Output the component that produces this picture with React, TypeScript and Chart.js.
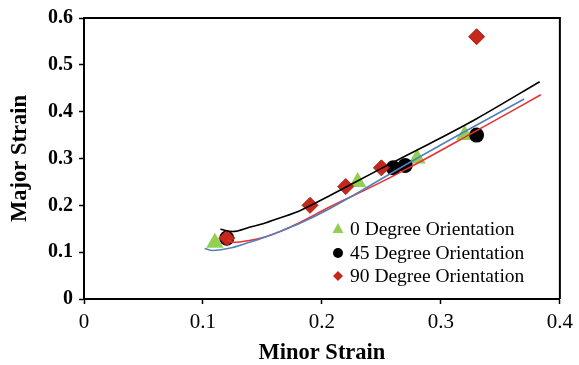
import React, { useEffect, useRef } from "react";
import { Chart, registerables } from "chart.js";

Chart.register(...registerables);

// Measured points
const minor0 = [0.11, 0.23, 0.28, 0.32];
const major0 = [0.12, 0.25, 0.30, 0.35];
const minor45 = [0.12, 0.26, 0.27, 0.33];
const major45 = [0.13, 0.28, 0.285, 0.35];
const minor90 = [0.12, 0.19, 0.22, 0.25, 0.33];
const major90 = [0.13, 0.20, 0.24, 0.28, 0.56];

// Trend lines
const trend0X = [0.1015, 0.108, 0.125, 0.139, 0.153, 0.167, 0.181, 0.206, 0.243, 0.27, 0.324, 0.37];
const trend0Y = [0.108, 0.1035, 0.110, 0.121, 0.133, 0.147, 0.161, 0.192, 0.246, 0.286, 0.363, 0.427];
const trend45X = [0.1146, 0.125, 0.139, 0.153, 0.167, 0.181, 0.19, 0.206, 0.25, 0.29, 0.33, 0.383];
const trend45Y = [0.149, 0.144, 0.153, 0.163, 0.175, 0.188, 0.199, 0.220, 0.279, 0.331, 0.385, 0.464];
const trend90X = [0.121, 0.125, 0.139, 0.153, 0.167, 0.181, 0.195, 0.206, 0.243, 0.273, 0.324, 0.384];
const trend90Y = [0.126, 0.121, 0.125, 0.133, 0.146, 0.163, 0.181, 0.196, 0.241, 0.280, 0.351, 0.436];

const legendLabels = ["0 Degree Orientation", "45 Degree Orientation", "90 Degree Orientation"];
const xTicks = [0, 0.1, 0.2, 0.3, 0.4];
const yTicks = [0, 0.1, 0.2, 0.3, 0.4, 0.5, 0.6];

const GREEN = "#92D050";
const BLACK = "#000000";
const RED = "#C4281C";
const BLUE_LINE = "#4F81BD";
const RED_LINE = "#EE3030";
const SERIF = "'Liberation Serif', 'Times New Roman', serif";

const zip = (xs: number[], ys: number[]) => xs.map((x, i) => ({ x, y: ys[i] }));
const fmt = (v: number) => (v === 0 ? "0" : v.toFixed(1));

const framePlugin = {
  id: "frame",
  afterDraw(chart: any) {
    const { ctx, chartArea: a } = chart;
    ctx.save();
    ctx.strokeStyle = "#000";
    ctx.lineWidth = 2;
    ctx.beginPath();
    ctx.moveTo(a.left, a.top);
    ctx.lineTo(a.right, a.top);
    ctx.lineTo(a.right, a.bottom);
    ctx.stroke();
    ctx.restore();

    // legend
    const mx = a.left + 254;
    const tx = a.left + 266;
    const rows = [a.top + 211, a.top + 235, a.top + 258];
    ctx.save();
    ctx.font = `19.5px ${SERIF}`;
    ctx.fillStyle = "#000";
    ctx.textBaseline = "middle";
    ctx.textAlign = "left";
    legendLabels.forEach((t, i) => {
      const y = rows[i];
      ctx.beginPath();
      if (i === 0) {
        ctx.fillStyle = GREEN;
        ctx.moveTo(mx, y - 6);
        ctx.lineTo(mx + 5.5, y + 4);
        ctx.lineTo(mx - 5.5, y + 4);
        ctx.closePath();
        ctx.fill();
      } else if (i === 1) {
        ctx.fillStyle = BLACK;
        ctx.arc(mx, y, 5, 0, Math.PI * 2);
        ctx.fill();
      } else {
        ctx.fillStyle = RED;
        ctx.moveTo(mx, y - 5);
        ctx.lineTo(mx + 5, y);
        ctx.lineTo(mx, y + 5);
        ctx.lineTo(mx - 5, y);
        ctx.closePath();
        ctx.fill();
      }
      ctx.fillStyle = "#000";
      ctx.fillText(t, tx, y + 1);
    });
    ctx.restore();
  },
};

export default function App() {
  const ref = useRef<HTMLCanvasElement | null>(null);

  useEffect(() => {
    document.body.style.margin = "0";
    const canvas = ref.current;
    if (!canvas) return;
    const lineDs = (label: string, xs: number[], ys: number[], color: string) => ({
      type: "line" as const,
      label,
      data: zip(xs, ys),
      borderColor: color,
      backgroundColor: color,
      borderWidth: 1.6,
      pointRadius: 0,
      showLine: true,
      fill: false,
      cubicInterpolationMode: "monotone" as const,
      order: 0,
    });
    const chart = new Chart(canvas, {
      type: "scatter",
      data: {
        datasets: [
          lineDs("0 trend", trend0X, trend0Y, BLUE_LINE),
          lineDs("90 trend", trend90X, trend90Y, RED_LINE),
          lineDs("45 trend", trend45X, trend45Y, BLACK),
          {
            label: legendLabels[2],
            data: zip(minor90, major90),
            pointStyle: "rectRot",
            pointRadius: 8,
            backgroundColor: RED,
            borderColor: "#A82014",
            borderWidth: 1,
            order: 1,
          },
          {
            label: legendLabels[1],
            data: zip(minor45, major45),
            pointStyle: "circle",
            pointRadius: 7.5,
            backgroundColor: BLACK,
            borderColor: BLACK,
            borderWidth: 0,
            order: 2,
          },
          {
            label: legendLabels[0],
            data: zip(minor0, major0),
            pointStyle: "triangle",
            pointRadius: 10,
            backgroundColor: GREEN,
            borderColor: GREEN,
            borderWidth: 0,
            order: 3,
          },
        ] as any,
      },
      options: {
        animation: false,
        responsive: false,
        events: [],
        layout: { padding: { top: 15, right: 18, left: 0, bottom: 0 } },
        plugins: { legend: { display: false }, tooltip: { enabled: false } },
        scales: {
          x: {
            type: "linear",
            min: 0,
            max: 0.4,
            afterBuildTicks: (s: any) => {
              s.ticks = xTicks.map((v) => ({ value: v }));
            },
            afterFit: (s: any) => {
              s.height = 66;
            },
            ticks: {
              callback: (v: any) => fmt(Number(v)),
              color: "#000",
              font: { family: SERIF, size: 21 },
              padding: 6,
              maxRotation: 0,
            },
            grid: {
              drawOnChartArea: false,
              drawTicks: true,
              tickLength: 5,
              tickColor: "#000",
              tickWidth: 1.5,
            },
            border: { display: true, color: "#000", width: 2 },
            title: {
              display: true,
              text: "Minor Strain",
              color: "#000",
              font: { family: SERIF, size: 22.5, weight: "bold" },
              padding: { top: 0, bottom: -2 },
            },
          },
          y: {
            type: "linear",
            min: 0,
            max: 0.6,
            afterBuildTicks: (s: any) => {
              s.ticks = yTicks.map((v) => ({ value: v }));
            },
            afterFit: (s: any) => {
              s.width = 84;
            },
            ticks: {
              callback: (v: any) => fmt(Number(v)),
              color: "#000",
              font: { family: SERIF, size: 20, weight: "bold" },
              padding: 6,
            },
            grid: {
              drawOnChartArea: false,
              drawTicks: true,
              tickLength: 5,
              tickColor: "#000",
              tickWidth: 1.5,
            },
            border: { display: true, color: "#000", width: 2 },
            title: {
              display: true,
              text: "Major Strain",
              color: "#000",
              font: { family: SERIF, size: 22.5, weight: "bold" },
              padding: { top: 7, bottom: 0 },
            },
          },
        },
      },
      plugins: [framePlugin],
    });
    return () => chart.destroy();
  }, []);

  return (
    <div style={{ width: 579, height: 365 }}>
      <canvas ref={ref} width={579} height={365} style={{ display: "block" }} />
    </div>
  );
}
